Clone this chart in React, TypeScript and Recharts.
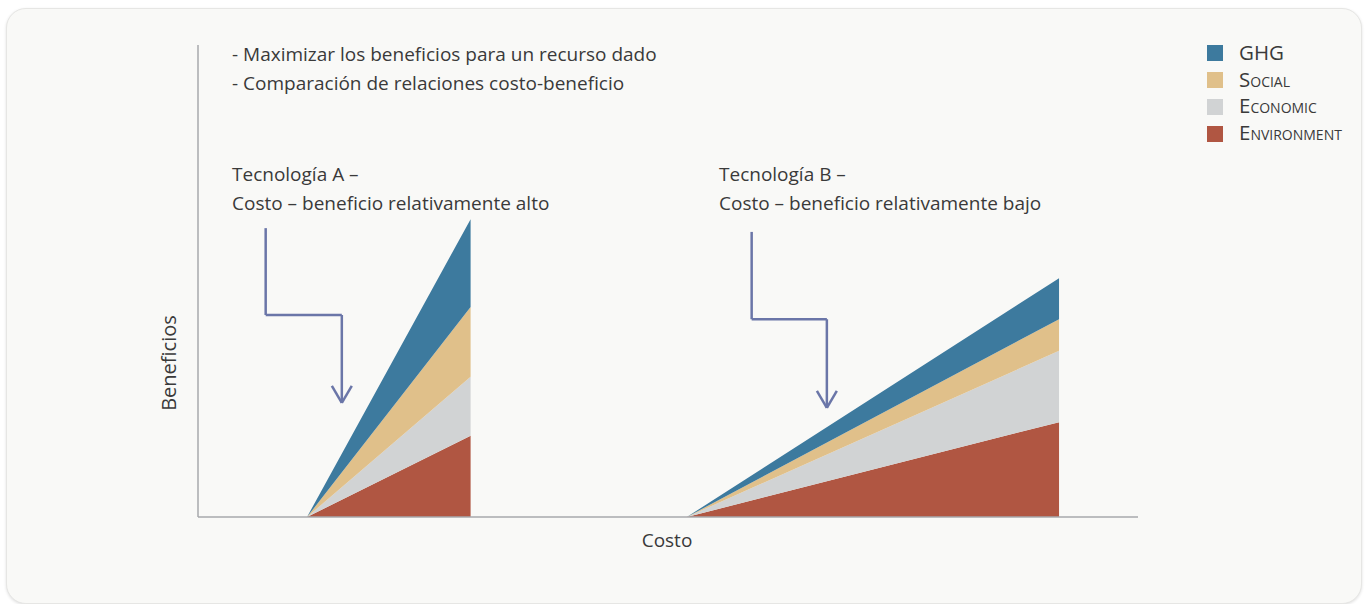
import { AreaChart, Area, XAxis, YAxis, ReferenceLine } from "recharts";

// Two technologies, each drawn as a wedge starting at its own cost
const technologies = ["Tecnología A", "Tecnología B"];
const costStart = [11.6, 52.0];
const costEnd = [29.0, 91.6];

// Benefit contributions at the end of each wedge
const environment = [17.2, 20.1];
const economic = [12.5, 15.1];
const social = [14.8, 6.7];
const ghg = [18.6, 8.7];

const seriesNames = ["Environment", "Economic", "Social", "GHG"];
const seriesKeys = ["environment", "economic", "social", "ghg"];
const seriesColors = ["#b05642", "#d1d3d4", "#e0c08a", "#3d7a9e"];

const notes = [
  "- Maximizar los beneficios para un recurso dado",
  "- Comparación de relaciones costo-beneficio",
];
const techTitles = ["Tecnología A –", "Tecnología B –"];
const techSubtitles = [
  "Costo – beneficio relativamente alto",
  "Costo – beneficio relativamente bajo",
];

const zero = { environment: 0, economic: 0, social: 0, ghg: 0 };
const data = technologies.flatMap((t, i) => [
  { cost: costStart[i], ...zero },
  {
    cost: costEnd[i],
    environment: environment[i],
    economic: economic[i],
    social: social[i],
    ghg: ghg[i],
  },
  { cost: costEnd[i], ...zero },
]);

// elbow pointers above each wedge (chart units)
const pointers = [
  { x0: 7.2, x1: 15.3, yTop: 61.2, yMid: 42.8, yTip: 24.2 },
  { x0: 58.9, x1: 66.9, yTop: 60.4, yMid: 41.9, yTip: 23.1 },
];
const ARM_X = 1.06;
const ARM_Y = 3.6;
const POINTER = "#6b76a8";

const FONT = "'Open Sans', 'Noto Sans', sans-serif";
const INK = "#3a3a3a";
const AXIS = "#a7a9ac";

export default function App() {
  const legendOrder = [...seriesNames.keys()].reverse();
  return (
    <div
      style={{
        position: "absolute",
        left: 0,
        top: 0,
        width: 1367,
        height: 604,
        background: "#fff",
        overflow: "hidden",
        fontFamily: FONT,
      }}
    >
      <div
        style={{
          position: "absolute",
          left: 6,
          top: 8,
          width: 1354,
          height: 594,
          borderRadius: 20,
          background: "#f9f9f7",
          border: "1px solid #e6e6e4",
          boxShadow: "0 1px 3px rgba(0,0,0,0.12)",
        }}
      />
      <div style={{ position: "absolute", left: 0, top: 0 }}>
        <AreaChart
          width={1367}
          height={604}
          data={data}
          margin={{ top: 45, right: 229, bottom: 57, left: 138 }}
        >
          <XAxis
            type="number"
            dataKey="cost"
            domain={[0, 100]}
            height={30}
            tick={false}
            tickLine={false}
            axisLine={{ stroke: AXIS, strokeWidth: 1.5 }}
          />
          <YAxis
            type="number"
            domain={[0, 100]}
            width={60}
            tick={false}
            tickLine={false}
            axisLine={{ stroke: AXIS, strokeWidth: 1.5 }}
          />
          {seriesKeys.map((k, i) => (
            <Area
              key={k}
              type="linear"
              dataKey={k}
              name={seriesNames[i]}
              stackId="benefit"
              stroke="none"
              fill={seriesColors[i]}
              fillOpacity={1}
              isAnimationActive={false}
              dot={false}
              activeDot={false}
            />
          ))}
          {pointers.flatMap((p, i) => [
            <ReferenceLine
              key={`a${i}`}
              segment={[{ x: p.x0, y: p.yTop }, { x: p.x0, y: p.yMid }]}
              stroke={POINTER}
              strokeWidth={2.5}
              ifOverflow="visible"
            />,
            <ReferenceLine
              key={`b${i}`}
              segment={[{ x: p.x0, y: p.yMid }, { x: p.x1, y: p.yMid }]}
              stroke={POINTER}
              strokeWidth={2.5}
              ifOverflow="visible"
            />,
            <ReferenceLine
              key={`c${i}`}
              segment={[{ x: p.x1, y: p.yMid }, { x: p.x1, y: p.yTip }]}
              stroke={POINTER}
              strokeWidth={2.5}
              ifOverflow="visible"
            />,
            <ReferenceLine
              key={`d${i}`}
              segment={[{ x: p.x1 - ARM_X, y: p.yTip + ARM_Y }, { x: p.x1, y: p.yTip }]}
              stroke={POINTER}
              strokeWidth={2.5}
              ifOverflow="visible"
            />,
            <ReferenceLine
              key={`e${i}`}
              segment={[{ x: p.x1 + ARM_X, y: p.yTip + ARM_Y }, { x: p.x1, y: p.yTip }]}
              stroke={POINTER}
              strokeWidth={2.5}
              ifOverflow="visible"
            />,
          ])}
        </AreaChart>
      </div>
      <svg
        width={1367}
        height={604}
        style={{ position: "absolute", left: 0, top: 0, pointerEvents: "none" }}
        fontFamily={FONT}
        fill={INK}
      >
        {notes.map((n, i) => (
          <text key={n} x={232} y={61 + i * 29} fontSize={19}>
            {n}
          </text>
        ))}
        {techTitles.map((t, i) => (
          <g key={t}>
            <text x={i === 0 ? 232 : 719} y={181} fontSize={19}>
              {t}
            </text>
            <text x={i === 0 ? 232 : 719} y={210} fontSize={19}>
              {techSubtitles[i]}
            </text>
          </g>
        ))}
        <text x={667} y={547} fontSize={19} textAnchor="middle">
          Costo
        </text>
        <text
          x={0}
          y={0}
          fontSize={20}
          textAnchor="middle"
          transform="translate(176 363) rotate(-90)"
        >
          Beneficios
        </text>
        {legendOrder.map((idx, row) => (
          <g key={seriesNames[idx]}>
            <rect x={1207} y={45 + row * 27} width={16} height={16} fill={seriesColors[idx]} />
            <text
              x={1239}
              y={60 + row * 26.7}
              fontSize={20.5}
              style={{ fontVariant: idx === 3 ? "normal" : "small-caps" }}
            >
              {seriesNames[idx]}
            </text>
          </g>
        ))}
      </svg>
    </div>
  );
}
